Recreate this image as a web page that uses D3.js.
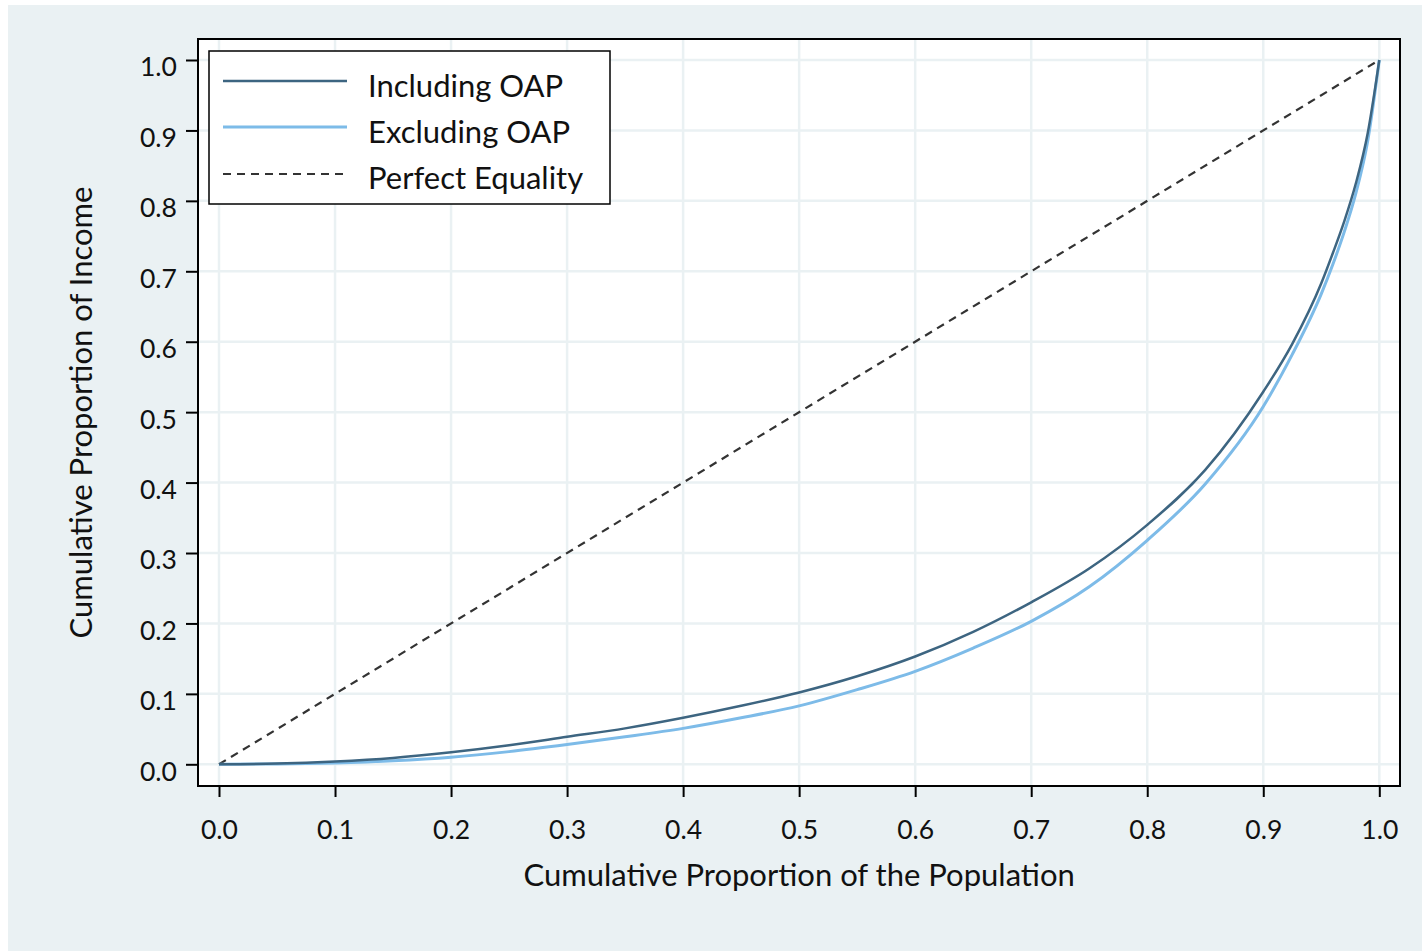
<!DOCTYPE html>
<html>
<head>
<meta charset="utf-8">
<script src="https://cdn.jsdelivr.net/npm/d3@7"></script>
<style>
  html, body { margin: 0; padding: 0; background: #ffffff; }
  svg { display: block; }
  text { font-family: Lato, "Open Sans", sans-serif; fill: #111; }
</style>
</head>
<body>
<svg id="chart" width="1422" height="951"></svg>
<script>
// ---- data ----
const populationShare = [0, 0.05, 0.1, 0.15, 0.2, 0.25, 0.3, 0.35, 0.4, 0.45, 0.5, 0.55, 0.6, 0.65, 0.7, 0.75, 0.8, 0.85, 0.9, 0.925, 0.95, 0.96, 0.97, 0.98, 0.99, 1.0];
const includingOAP   = [0, 0.001, 0.004, 0.009, 0.017, 0.027, 0.039, 0.051, 0.066, 0.083, 0.102, 0.125, 0.153, 0.188, 0.230, 0.278, 0.340, 0.418, 0.529, 0.597, 0.683, 0.726, 0.772, 0.826, 0.896, 1.0];
const excludingOAP   = [0, 0.0005, 0.002, 0.005, 0.010, 0.018, 0.028, 0.039, 0.051, 0.066, 0.083, 0.106, 0.132, 0.165, 0.203, 0.252, 0.318, 0.398, 0.508, 0.582, 0.668, 0.710, 0.757, 0.812, 0.885, 1.0];
const equalityLine   = [0, 1];
const xTicks = [0, 0.1, 0.2, 0.3, 0.4, 0.5, 0.6, 0.7, 0.8, 0.9, 1.0];
const yTicks = [0, 0.1, 0.2, 0.3, 0.4, 0.5, 0.6, 0.7, 0.8, 0.9, 1.0];
const seriesNames = ["Including OAP", "Excluding OAP", "Perfect Equality"];
const xTitle = "Cumulative Proportion of the Population";
const yTitle = "Cumulative Proportion of Income";

// ---- layout ----
const svg = d3.select("#chart");
const frame = { left: 198, top: 39, right: 1400, bottom: 786 };
const x = d3.scaleLinear().domain([0, 1]).range([219, 1379.3]);
const y = d3.scaleLinear().domain([0, 1]).range([764.3, 60]);
const bg = "#eaf1f3";
const darkBlue = "#3d6581";
const lightBlue = "#7dbbe8";

// outer background
svg.append("rect").attr("x", 8).attr("y", 5).attr("width", 1422 - 8).attr("height", 951 - 5).attr("fill", bg);

// plot area
svg.append("rect")
  .attr("x", frame.left).attr("y", frame.top)
  .attr("width", frame.right - frame.left).attr("height", frame.bottom - frame.top)
  .attr("fill", "#ffffff");

// gridlines
const grid = svg.append("g").attr("stroke", bg).attr("stroke-width", 2.5);
grid.selectAll("line.vx").data(xTicks).join("line")
  .attr("x1", d => x(d)).attr("x2", d => x(d))
  .attr("y1", frame.top).attr("y2", frame.bottom);
grid.selectAll("line.hy").data(yTicks).join("line")
  .attr("y1", d => y(d)).attr("y2", d => y(d))
  .attr("x1", frame.left).attr("x2", frame.right);

// axes
const fmt = d3.format(".1f");
const xAxis = svg.append("g")
  .attr("transform", `translate(0,${frame.bottom})`)
  .call(d3.axisBottom(x).tickValues(xTicks).tickFormat(fmt).tickSize(11).tickPadding(23));
const yAxis = svg.append("g")
  .attr("transform", `translate(${frame.left},0)`)
  .call(d3.axisLeft(y).tickValues(yTicks).tickFormat(fmt).tickSize(12).tickPadding(9));
[xAxis, yAxis].forEach(a => {
  a.select(".domain").remove();
  a.selectAll(".tick line").attr("stroke", "#000").attr("stroke-width", 2);
  a.selectAll(".tick text")
    .attr("font-family", "Lato, 'Open Sans', sans-serif")
    .attr("font-size", 26.5)
    .attr("fill", "#111");
});
yAxis.selectAll(".tick text").attr("dy", "0.6em");

// lines
const line = d3.line().x(d => x(d[0])).y(d => y(d[1])).curve(d3.curveMonotoneX);
svg.append("path")
  .datum(equalityLine.map(v => [v, v]))
  .attr("d", line).attr("fill", "none")
  .attr("stroke", "#333").attr("stroke-width", 2.2).attr("stroke-dasharray", "8,6");
svg.append("path")
  .datum(populationShare.map((p, i) => [p, excludingOAP[i]]))
  .attr("d", line).attr("fill", "none")
  .attr("stroke", lightBlue).attr("stroke-width", 3);
svg.append("path")
  .datum(populationShare.map((p, i) => [p, includingOAP[i]]))
  .attr("d", line).attr("fill", "none")
  .attr("stroke", darkBlue).attr("stroke-width", 2.5);

// frame
svg.append("rect")
  .attr("x", frame.left).attr("y", frame.top)
  .attr("width", frame.right - frame.left).attr("height", frame.bottom - frame.top)
  .attr("fill", "none").attr("stroke", "#000").attr("stroke-width", 2);

// legend
const legend = svg.append("g");
legend.append("rect")
  .attr("x", 209).attr("y", 51).attr("width", 401).attr("height", 153)
  .attr("fill", "#fff").attr("stroke", "#000").attr("stroke-width", 1.5);
const legendStyles = [
  { color: darkBlue, width: 2.5, dash: null },
  { color: lightBlue, width: 3, dash: null },
  { color: "#333", width: 2.2, dash: "8,6" }
];
const rowY = [81, 127, 174];
const baseY = [97, 143, 189];
seriesNames.forEach((name, i) => {
  legend.append("line")
    .attr("x1", 223).attr("x2", 347).attr("y1", rowY[i]).attr("y2", rowY[i])
    .attr("stroke", legendStyles[i].color).attr("stroke-width", legendStyles[i].width)
    .attr("stroke-dasharray", legendStyles[i].dash);
  legend.append("text")
    .attr("x", 368).attr("y", baseY[i])
    .attr("font-size", 31)
    .text(name);
});

// axis titles
svg.append("text")
  .attr("x", (x(0) + x(1)) / 2).attr("y", 886)
  .attr("text-anchor", "middle").attr("font-size", 31)
  .text(xTitle);
svg.append("text")
  .attr("transform", `translate(92,${(frame.top + frame.bottom) / 2}) rotate(-90)`)
  .attr("text-anchor", "middle").attr("font-size", 31)
  .text(yTitle);
</script>
</body>
</html>
